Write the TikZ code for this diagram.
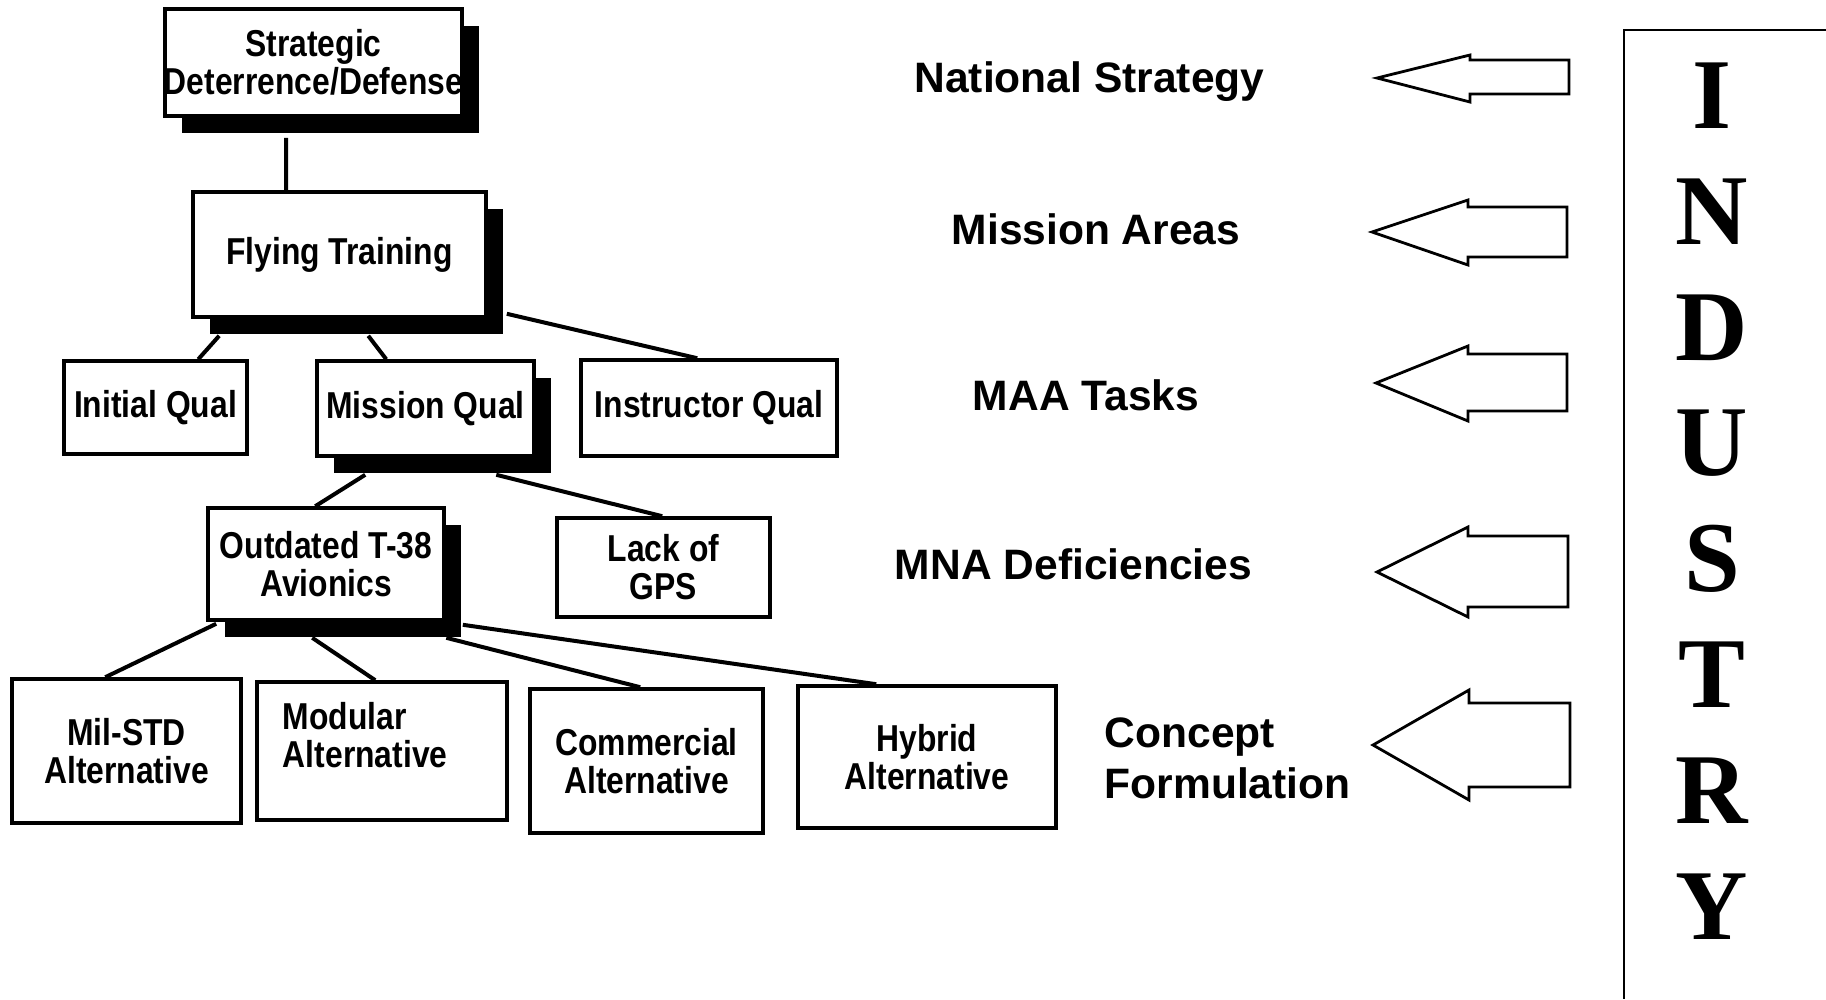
\documentclass[tikz,border=0pt]{standalone}
\usepackage{fontspec}
\usetikzlibrary{shadows}
\newfontfamily\boxfam{Liberation Sans}[FakeStretch=0.85]
\newfontfamily\labfam{Liberation Sans}
\newfontfamily\serfam{Liberation Serif}
\begin{document}
\begin{tikzpicture}[x=0.01cm,y=-0.01cm,
  box/.style={draw, line width=0.035cm, fill=white, inner sep=0pt, align=center,
    font=\boxfam\bfseries\fontsize{10.65}{10.8}\selectfont},
  shad/.style={general shadow={fill=black, shadow xshift=0.17cm, shadow yshift=-0.17cm}},
  link/.style={line width=0.04cm},
  lab/.style={font=\labfam\bfseries\fontsize{12.1}{14.5}\selectfont, inner sep=0pt},
  blockarrow/.style={draw, line width=0.028cm, line join=miter},
  letter/.style={font=\serfam\bfseries\fontsize{28.5}{30}\selectfont, inner sep=0pt}]
\useasboundingbox (0,0) rectangle (1826,999);
% boxes
\node[box, shad, minimum width=2.97cm, minimum height=1.07cm] (strat) at (313.5,62.5)
  {Strategic\\\makebox[2.8cm]{Deterrence/Defense}};
\node[box, shad, minimum width=2.93cm, minimum height=1.25cm] (fly) at (339.5,254.5) {Flying Training};
\node[box, minimum width=1.83cm, minimum height=0.93cm] (iq) at (155.5,407.5) {Initial Qual};
\node[box, shad, minimum width=2.17cm, minimum height=0.95cm] (mq) at (425.5,408.5) {Mission Qual};
\node[box, minimum width=2.56cm, minimum height=0.96cm] (inq) at (709,408) {Instructor Qual};
\node[box, shad, minimum width=2.36cm, minimum height=1.12cm] (otd) at (326,564) {Outdated T-38\\Avionics};
\node[box, minimum width=2.13cm, minimum height=0.99cm] (gps) at (663.5,567.5) {Lack of\\GPS};
\node[box, minimum width=2.29cm, minimum height=1.44cm] (mil) at (126.5,751) {Mil-STD\\Alternative};
\node[box, minimum width=2.50cm, minimum height=1.38cm] (mod) at (382,751)
  {\parbox[c][0.98cm][t]{1.98cm}{\raggedright Modular\\Alternative}};
\node[box, minimum width=2.33cm, minimum height=1.44cm] (com) at (646.5,761) {Commercial\\Alternative};
\node[box, minimum width=2.58cm, minimum height=1.42cm] (hyb) at (927,757) {Hybrid\\Alternative};
% connectors
\draw[link] ([xshift=1.23cm,yshift=-0.20cm]strat.south west) -- ([xshift=0.95cm]fly.north west);
\draw[link] ([xshift=0.28cm,yshift=-0.17cm]fly.south west) -- ([xshift=1.36cm]iq.north west);
\draw[link] ([xshift=1.77cm,yshift=-0.17cm]fly.south west) -- ([xshift=0.71cm]mq.north west);
\draw[link] ([xshift=0.19cm,yshift=0.05cm]fly.south east) -- ([xshift=1.18cm]inq.north west);
\draw[link] ([xshift=0.50cm,yshift=-0.17cm]mq.south west) -- ([xshift=1.09cm]otd.north west);
\draw[link] ([xshift=1.81cm,yshift=-0.17cm]mq.south west) -- ([xshift=1.07cm]gps.north west);
\draw[link] ([xshift=0.10cm,yshift=-0.02cm]otd.south west) -- ([xshift=0.95cm]mil.north west);
\draw[link] ([xshift=1.06cm,yshift=-0.16cm]otd.south west) -- ([xshift=1.20cm]mod.north west);
\draw[link] ([xshift=2.40cm,yshift=-0.16cm]otd.south west) -- ([xshift=1.12cm]com.north west);
\draw[link] ([xshift=0.17cm,yshift=-0.03cm]otd.south east) -- ([xshift=0.80cm]hyb.north west);
% labels
\node[lab, anchor=base] (ns) at (1089.5,92) {National Strategy};
\node[lab, anchor=base] (ma) at (1096,244) {Mission Areas};
\node[lab, anchor=base] (maa) at (1086,410) {MAA Tasks};
\node[lab, anchor=base] (mna) at (1073.5,579) {MNA Deficiencies};
\node[lab, anchor=west, align=left] (cf) at (1104,758.5) {Concept\\Formulation};
% block arrows
\draw[blockarrow] (1377,78) -- (1470,55) -- (1470,60) -- (1569,60) -- (1569,94) -- (1470,94) -- (1470,102) -- cycle;
\draw[blockarrow] (1372,232) -- (1468,200) -- (1468,207) -- (1567,207) -- (1567,257) -- (1468,257) -- (1468,265) -- cycle;
\draw[blockarrow] (1376,383) -- (1468,346) -- (1468,354) -- (1567,354) -- (1567,411) -- (1468,411) -- (1468,421) -- cycle;
\draw[blockarrow] (1377,572) -- (1468,527) -- (1468,536) -- (1568,536) -- (1568,607) -- (1468,607) -- (1468,617) -- cycle;
\draw[blockarrow] (1373,745) -- (1469,690) -- (1469,703) -- (1570,703) -- (1570,787) -- (1469,787) -- (1469,800) -- cycle;
% industry
\draw[line width=0.028cm] (1826,30) -- (1624,30) -- (1624,999);
\node[letter] (l1) at (1712,96) {I};
\node[letter] (l2) at (1712,211.8) {N};
\node[letter] (l3) at (1712,327.6) {D};
\node[letter] (l4) at (1712,443.4) {U};
\node[letter] (l5) at (1712,559.2) {S};
\node[letter] (l6) at (1712,675) {T};
\node[letter] (l7) at (1712,790.8) {R};
\node[letter] (l8) at (1712,906.6) {Y};
\end{tikzpicture}
\end{document}
